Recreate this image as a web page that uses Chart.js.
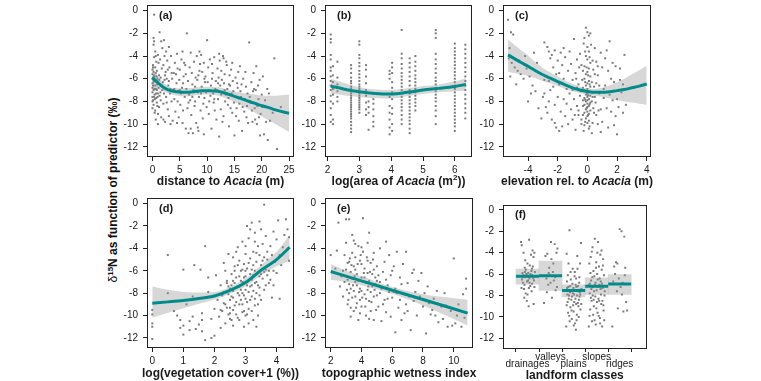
<!DOCTYPE html>
<html><head><meta charset="utf-8">
<script src="https://cdn.jsdelivr.net/npm/chart.js@4.4.1/dist/chart.umd.min.js"></script>
<style>
html,body{margin:0;padding:0;background:#fff}
body{width:761px;height:381px;overflow:hidden;position:relative;font-family:"Liberation Sans",Arial,sans-serif}
canvas{position:absolute}
#ytitle{position:absolute;left:113px;top:190px;transform:translate(-50%,-50%) rotate(-90deg);white-space:nowrap;font-weight:bold;font-size:12px;color:#111;line-height:14px}
#ytitle sup{font-size:8px;vertical-align:4px;line-height:0}
</style></head>
<body>
<div id="ytitle"><span style="font-weight:normal">δ</span><sup>15</sup>N as function of predictor (‰)</div>
<canvas id="pa" width="180" height="190" style="left:120px;top:0px"></canvas>
<canvas id="pb" width="182" height="190" style="left:298px;top:0px"></canvas>
<canvas id="pc" width="185" height="190" style="left:476px;top:0px"></canvas>
<canvas id="pd" width="180" height="191" style="left:120px;top:190px"></canvas>
<canvas id="pe" width="182" height="191" style="left:298px;top:190px"></canvas>
<canvas id="pf" width="185" height="191" style="left:476px;top:190px"></canvas>
<script>
// ---------------- data ----------------
const yTicks = [-12, -10, -8, -6, -4, -2, 0];
const aTicks = [0, 5, 10, 15, 20, 25];
const bTicks = [2, 3, 4, 5, 6];
const cTicks = [-4, -2, 0, 2, 4];
const dTicks = [0, 1, 2, 3, 4];
const eTicks = [2, 4, 6, 8, 10];
const fTicks = [1, 2, 3, 4, 5];
const fCategories = ['drainages', 'valleys', 'plains', 'slopes', 'ridges'];

const aTitle = [['distance to ', ''], ['Acacia', 'i'], [' (m)', '']];
const bTitle = [['log(area of ', ''], ['Acacia', 'i'], [' (m', ''], ['2', 's'], ['))', '']];
const cTitle = [['elevation rel. to ', ''], ['Acacia', 'i'], [' (m)', '']];
const dTitle = [['log(vegetation cover+1 (%))', '']];
const eTitle = [['topographic wetness index', '']];
const fTitle = [['landform classes', '']];

// (a) distance to Acacia
const aPoints = [[0,-5.2],[0,-5.6],[0,-6.0],[0,-6.4],[0,-6.8],[0,-7.2],[0,-7.6],[0,-8.0],[0,-8.6],[0.1,-4.8],[0.1,-5.9],[0.1,-6.6],[0.1,-7.9],[0.2,-2.4],[0.2,-3.0],[0.2,-5.4],[0.2,-7.0],[0.2,-8.3],[0.3,-0.35],[0.3,-2.7],[0.3,-4.1],[0.3,-6.2],[0.4,-7.4],[0.4,-9.0],[0.5,-3.6],[0.5,-5.0],[0.5,-8.8],[0.6,-6.9],[0.6,-9.6],[0.7,-4.5],[0.7,-7.7],[0.8,-5.3],[0.8,-8.1],[0.9,-6.0],[1.0,-3.9],[1.0,-7.3],[1.0,-9.1],[1.2,-5.7],[1.2,-8.5],[1.3,-1.9],[1.4,-4.3],[1.4,-6.5],[1.5,-7.9],[1.6,-2.7],[1.6,-9.4],[1.7,-5.1],[1.8,-3.3],[1.8,-7.0],[2.0,-4.8],[2.0,-8.2],[2.1,-2.6],[2.2,-6.1],[2.3,-9.8],[2.4,-5.4],[2.5,-3.6],[2.5,-7.6],[2.7,-4.4],[2.8,-8.7],[2.9,-6.6],[3.0,-9.3],[3.1,-5.0],[3.2,-7.3],[3.4,-4.0],[3.5,-8.0],[3.6,-6.0],[3.7,-9.7],[3.9,-5.5],[4.0,-7.8],[4.1,-4.6],[4.2,-8.9],[4.4,-6.4],[4.5,-3.8],[4.7,-7.1],[4.8,-9.4],[5.0,-5.2],[5.1,-8.3],[5.3,-4.3],[5.4,-6.8],[5.5,-9.9],[5.7,-5.8],[5.9,-7.6],[6.0,-4.8],[6.1,-10.4],[6.3,-2.0],[6.4,-8.6],[6.5,-6.2],[6.6,-10.8],[6.8,-5.0],[6.9,-7.9],[7.0,-3.7],[7.1,-9.2],[7.3,-6.5],[7.4,-10.8],[7.6,-4.5],[7.7,-8.4],[7.9,-5.9],[8.0,-9.9],[8.1,-4.0],[8.3,-7.2],[8.4,-10.6],[8.6,-5.3],[8.8,-8.8],[8.9,-3.9],[9.0,-6.7],[9.2,-9.5],[9.4,-4.6],[9.5,-7.7],[9.7,-5.8],[9.9,-8.5],[10.0,-2.6],[10.1,-6.3],[10.3,-9.1],[10.5,-4.3],[10.6,-7.5],[10.8,-10.4],[11.0,-5.5],[11.2,-8.1],[11.3,-4.1],[11.5,-6.9],[11.7,-9.6],[11.9,-5.1],[12.0,-7.8],[12.2,-11.1],[12.3,-4.4],[12.5,-8.7],[12.7,-6.1],[12.9,-4.0],[13.0,-9.3],[13.2,-5.6],[13.4,-7.4],[13.6,-4.8],[13.8,-8.3],[14.0,-10.2],[14.2,-6.6],[14.4,-5.2],[14.6,-9.0],[14.8,-7.1],[15.0,-11.0],[15.2,-5.9],[15.4,-8.6],[15.6,-6.8],[15.8,-9.7],[16.0,-4.9],[16.2,-7.6],[16.4,-10.6],[16.6,-6.0],[16.8,-8.9],[17.0,-5.4],[17.2,-9.4],[17.4,-7.3],[17.7,-2.8],[17.9,-8.1],[18.1,-6.3],[18.3,-9.8],[18.5,-5.5],[18.7,-8.6],[18.9,-7.0],[19.0,-4.9],[19.1,-10.0],[19.3,-6.6],[19.5,-9.4],[19.7,-11.0],[20.0,-7.4],[20.2,-5.8],[20.4,-10.9],[20.6,-7.9],[21.0,-6.9],[21.1,-11.4],[21.5,-9.7],[22.3,-4.2],[22.8,-12.2],[23.5,-8.5],
[0.1,-5.0],[0.2,-6.3],[0.3,-7.6],[0.4,-5.8],[0.5,-6.6],[0.6,-5.5],[0.7,-6.2],[0.8,-7.0],[0.9,-8.4],[1.1,-6.8],[1.3,-7.5],[1.5,-5.9],[1.9,-6.3],[2.1,-7.3],[2.6,-6.0],[2.8,-5.2],[3.3,-6.9],[3.8,-7.0],[4.3,-5.6],[4.6,-8.0],[4.9,-6.1],[5.2,-7.3],[5.6,-8.8],[5.8,-4.6],[6.2,-6.9],[6.7,-7.4],[7.2,-5.5],[7.5,-7.0],[7.8,-8.0],[8.2,-6.1],[8.5,-7.6],[8.7,-4.7],[9.1,-5.4],[9.3,-8.2],[9.6,-6.3],[9.8,-7.2],[10.2,-5.0],[10.4,-8.0],[10.7,-6.6],[10.9,-4.7],[11.1,-7.3],[11.4,-8.8],[11.6,-6.2],[11.8,-7.0],[12.1,-5.9],[12.4,-6.6],[12.6,-7.4],[12.8,-9.8],[13.1,-6.4],[13.3,-8.0],[13.5,-4.5],[13.7,-6.9],[13.9,-7.7],[14.1,-5.7],[14.3,-8.6],[14.5,-7.3],[14.7,-6.2],[14.9,-8.1],[15.1,-7.6],[15.3,-9.3],[15.5,-6.4],[15.9,-8.2],[16.1,-7.1],[16.5,-8.5],[16.9,-7.8],[17.1,-6.7],[17.5,-9.9],[17.8,-7.6],[18.2,-8.8],[18.6,-6.9],[18.8,-9.6],[19.2,-8.4],[19.4,-7.8],[19.8,-9.1],[20.1,-8.5],[20.8,-9.8],[21.3,-7.3],[22.0,-9.0],[9.4,-10.9],[8.3,-10.3],[7.0,-10.4],
[0.15,-6.1],[0.25,-5.7],[0.35,-6.9],[0.45,-7.8],[0.55,-6.2],[0.65,-7.3],[0.75,-5.8],[0.85,-6.5],[0.95,-7.6],[1.25,-6.1],[1.45,-7.2],[1.75,-6.6],[2.3,-5.7],[2.6,-8.1],[3.0,-6.2],[3.5,-5.5],[4.0,-6.9],[4.6,-5.1],[5.0,-7.0],[5.6,-6.4],[6.1,-5.6],[6.6,-8.1],[7.3,-7.6],[7.8,-6.7],[8.4,-5.7],[8.9,-7.3],[9.5,-6.0],[10.3,-7.0],[10.9,-6.0],[11.3,-7.8],[12.0,-6.4],[12.6,-5.3],[13.2,-7.0],[14.0,-6.5],[14.6,-4.6],[15.7,-5.4],[16.3,-6.5],[17.3,-8.4],[18.4,-7.1],[19.6,-6.1],[1.0,-10.0],[2.0,-9.6],[3.3,-10.0],[4.5,-9.9],[0.6,-4.0],[1.1,-4.6],[2.2,-4.0],[3.0,-3.2],[5.5,-3.6],[8.6,-3.6],[12.2,-3.8],[13.0,-4.2]];
const aCurve = [[0,-5.9],[1,-6.35],[2,-6.75],[3,-7.0],[4.5,-7.15],[6,-7.2],[7.5,-7.15],[9,-7.05],[10.5,-7.05],[12,-7.1],[13.5,-7.3],[15,-7.55],[16.5,-7.8],[18,-8.05],[19.5,-8.3],[21,-8.5],[22.5,-8.75],[25,-9.05]];
const aBand = [[0,-6.8,-5.0],[1,-6.9,-5.8],[2,-7.1,-6.35],[3,-7.3,-6.7],[4.5,-7.5,-6.85],[6,-7.55,-6.85],[7.5,-7.5,-6.8],[9,-7.4,-6.7],[10.5,-7.4,-6.7],[12,-7.5,-6.75],[13.5,-7.75,-6.9],[15,-8.05,-7.1],[16.5,-8.4,-7.25],[18,-8.8,-7.35],[19.5,-9.2,-7.45],[21,-9.6,-7.5],[22.5,-10.0,-7.5],[25,-10.7,-7.4]];

// (b) log(area of Acacia)
const bColumnX = [2.10, 2.17, 2.31, 2.74, 3.0, 3.21, 3.29, 3.44, 3.95, 4.03, 4.33, 4.58, 4.76, 5.40, 6.0, 6.33];
const bColumnY = [
 [-2.1,-2.5,-2.8,-3.9,-4.3,-5.0,-5.3,-5.8,-6.2,-6.6,-7.0,-7.5,-8.0,-8.6,-9.2,-9.8],
 [-4.9,-5.7,-6.3,-6.9,-7.4,-8.2,-9.6,-10.0],
 [-4.5,-5.9,-6.5,-7.1,-7.6,-8.0],
 [-4.8,-5.1,-5.5,-5.9,-6.2,-6.4,-6.7,-6.9,-7.1,-7.3,-7.5,-7.7,-7.9,-8.1,-8.3,-8.5,-8.7,-8.9,-9.1,-9.3,-9.5,-9.8,-10.1,-10.4,-10.7],
 [-2.7,-3.0,-3.9,-4.2,-4.6,-4.9,-5.3,-5.6,-5.9,-6.2,-6.5,-6.7,-6.9,-7.1,-7.3,-7.5,-7.7,-7.9,-8.1,-8.3,-8.5,-8.7,-9.0],
 [-4.8,-5.2,-5.8,-6.4,-7.0,-7.5,-8.1,-8.7,-9.2],
 [-8.0,-8.5,-9.0,-10.5],
 [-7.3,-7.8,-8.2,-8.7,-9.3,-9.8,-10.2],
 [-5.3,-5.6,-6.0,-7.6,-8.4,-9.0,-9.6,-10.3,-10.9],
 [-4.6,-5.0,-5.5,-6.3,-6.8,-7.2,-7.8,-8.6,-9.1,-10.0,-10.6],
 [-1.7,-3.8,-4.2,-4.7,-5.1,-5.5,-5.8,-6.1,-6.4,-6.7,-7.0,-7.3,-7.6,-7.9,-8.2,-8.5,-8.8,-9.2,-9.6,-10.0],
 [-4.2,-4.6,-5.0,-5.4,-5.8,-6.2,-6.6,-7.0,-7.3,-7.6,-7.9,-8.2,-8.5,-8.8,-9.1,-9.4,-9.7,-10.0,-10.4,-10.8],
 [-4.0,-4.5,-4.9,-5.3,-5.7,-6.0,-6.3,-6.6,-6.9,-7.2,-7.5,-7.8,-8.1,-8.4,-8.8],
 [-1.7,-2.0,-2.4,-3.8,-4.3,-4.7,-5.1,-5.5,-5.9,-6.2,-6.5,-6.8,-7.1,-7.4,-7.7,-8.0,-8.4,-8.8,-9.3,-10.0],
 [-2.9,-3.3,-3.6,-3.9,-4.2,-4.5,-4.8,-5.1,-5.4,-5.7,-6.0,-6.3,-6.6,-6.9,-7.2,-7.5,-7.8,-8.1,-8.4,-8.7,-9.0,-9.3,-9.6,-9.9,-10.2,-10.6],
 [-3.0,-3.4,-3.8,-4.2,-4.6,-5.0,-5.4,-5.8,-6.2,-6.6,-7.0,-7.4,-7.8,-8.2,-8.6,-9.0,-9.5]
];
const bCurve = [[2.1,-6.65],[2.5,-6.9],[3,-7.15],[3.5,-7.3],[4,-7.35],[4.5,-7.2],[5,-7.0],[5.5,-6.85],[6,-6.68],[6.35,-6.5]];
const bBand = [[2.1,-7.3,-6.0],[2.5,-7.45,-6.35],[3,-7.6,-6.75],[3.5,-7.7,-6.95],[4,-7.75,-7.0],[4.5,-7.55,-6.85],[5,-7.35,-6.65],[5.5,-7.2,-6.5],[6,-7.1,-6.25],[6.35,-7.05,-5.95]];

// (c) elevation relative to Acacia
const cPoints = [[-5.35,-0.8],[-5.15,-1.9],[-5.0,-2.1],[-5.25,-3.3],[-5.3,-4.2],[-5.1,-4.6],[-4.9,-5.0],[-5.2,-5.8],[-4.7,-5.3],[-4.5,-5.6],[-4.8,-6.5],[-4.3,-6.0],[-4.6,-4.4],[-4.1,-5.1],[-3.9,-5.8],[-4.0,-8.0],[-3.7,-6.6],[-3.5,-7.1],[-3.4,-4.6],[-3.3,-8.6],[-3.2,-5.5],[-3.0,-7.6],[-2.9,-6.1],
[-2.9,-2.8],[-2.7,-3.2],[-2.6,-3.6],[-2.5,-4.2],[-2.4,-3.9],[-2.3,-5.0],[-2.2,-3.5],[-2.0,-4.4],[-1.9,-5.5],[-1.8,-3.7],[-1.7,-4.8],[-1.6,-6.0],[-1.5,-4.1],[-1.3,-5.3],[-1.2,-3.6],[-1.1,-4.7],[-1.0,-6.1],[-0.9,-2.5],[-0.8,-5.5],[-0.7,-4.3],[-0.6,-6.5],[-0.5,-3.8],
[-2.9,-7.3],[-2.8,-8.5],[-2.7,-9.0],[-2.6,-8.0],[-2.5,-7.0],[-2.4,-9.6],[-2.2,-8.3],[-2.1,-10.3],[-2.0,-7.6],[-1.9,-10.6],[-1.8,-8.9],[-1.6,-7.8],[-1.5,-9.3],[-1.4,-8.2],[-1.3,-10.0],[-1.2,-7.3],[-1.1,-8.7],[-1.0,-9.6],[-0.9,-7.8],[-0.8,-10.5],[-0.7,-8.4],[-0.6,-9.2],[-0.5,-7.5],[-0.4,-10.0],[-2.6,-6.2],[-2.3,-6.7],[-1.9,-6.5],[-1.4,-6.9],[-1.0,-7.0],[-0.7,-6.8],
[-0.1,-1.5],[0.1,-2.2],[0.2,-2.0],[-0.2,-2.4],[0,-3.2],[0.1,-3.6],[-0.1,-4.0],[0.0,-4.3],[0.2,-4.6],[-0.2,-4.9],[0.1,-5.1],[0,-5.4],[-0.1,-5.6],[0.2,-5.8],[-0.2,-6.0],[0.1,-6.2],[0,-6.4],[-0.1,-6.6],[0.2,-6.7],[0,-6.9],[-0.2,-7.0],[0.1,-7.1],[0,-7.3],[-0.1,-7.4],[0.2,-7.5],[0,-7.6],[-0.2,-7.7],[0.1,-7.8],[0,-7.9],[-0.1,-8.0],[0.2,-8.1],[0,-8.2],[-0.2,-8.3],[0.1,-8.4],[0,-8.5],[-0.1,-8.7],[0.2,-8.8],[0,-8.9],[-0.2,-9.0],[0.1,-9.1],[0,-9.3],[-0.1,-9.5],[0.1,-9.7],[0,-9.9],[-0.2,-10.1],[0.1,-10.4],[0.3,-10.8],[0.3,-6.3],[0.3,-7.2],[0.3,-8.0],[-0.3,-6.8],[-0.3,-7.9],[-0.3,-9.2],[0.4,-5.2],[0.4,-8.6],[-0.3,-5.3],
[0.5,-3.3],[0.6,-4.5],[0.7,-5.7],[0.8,-6.6],[0.9,-3.7],[1.0,-5.0],[1.1,-7.7],[1.2,-4.2],[1.3,-8.6],[1.4,-5.3],[1.5,-2.7],[1.6,-6.0],[1.7,-7.9],[1.8,-6.3],[1.9,-9.3],[2.0,-10.9],[2.1,-8.5],[2.2,-6.1],[2.3,-7.2],[2.4,-9.0],[2.5,-3.9],[2.6,-8.3],[0.5,-7.6],[0.6,-9.2],[0.7,-10.0],[0.9,-8.7],[1.0,-9.8],[1.2,-6.6],[1.4,-10.3],[1.6,-8.9],[0.6,-6.4],[0.8,-7.3],[1.1,-6.9],[1.5,-7.4],[1.8,-10.1],[2.0,-7.8],
[-0.4,-4.8],[-0.35,-6.1],[-0.45,-7.1],[-0.3,-8.4],[-0.4,-9.6],[0.35,-4.4],[0.45,-6.7],[0.35,-7.6],[0.45,-9.0],[0.35,-9.9],[-0.15,-3.6],[0.15,-4.1],[-0.05,-5.0],[0.05,-5.7],[-0.15,-6.3],[0.15,-6.5],[-0.05,-7.15],[0.05,-7.45],[-0.15,-7.85],[0.15,-8.25],[-0.05,-8.6],[0.05,-9.2],[-0.15,-9.8],[0.15,-10.2],[-0.25,-10.6],[0.25,-3.0],[-0.25,-2.9],[0.0,-1.9],[0.5,-5.6],[0.55,-8.1],[-0.55,-5.0],[-0.6,-8.8],[0.7,-4.9],[0.75,-8.8],[-0.75,-6.0],[-0.85,-9.2],[1.3,-3.5],[1.7,-4.6],[2.2,-5.1],[-1.6,-3.3],[-2.1,-5.6],[-3.6,-3.7],[-4.2,-4.0],[-3.8,-7.3],[-2.2,-9.9],[-1.7,-10.2],[-3.1,-9.5],[0.9,-10.7],[1.9,-4.9],[2.4,-6.5]];
const cCurve = [[-5.35,-3.9],[-4.5,-4.55],[-4,-4.9],[-3.5,-5.3],[-3,-5.65],[-2.5,-5.95],[-2,-6.25],[-1.5,-6.55],[-1,-6.8],[-0.5,-7.0],[0,-7.12],[0.5,-7.2],[1,-7.2],[1.5,-7.15],[2,-7.05],[2.5,-6.95],[3,-6.8],[3.5,-6.65],[4,-6.47]];
const cBand = [[-5.35,-5.4,-2.55],[-4.5,-5.6,-3.45],[-4,-5.75,-3.95],[-3.5,-5.95,-4.55],[-3,-6.2,-5.05],[-2.5,-6.4,-5.45],[-2,-6.65,-5.8],[-1.5,-6.9,-6.15],[-1,-7.1,-6.45],[-0.5,-7.25,-6.7],[0,-7.4,-6.85],[0.5,-7.5,-6.9],[1,-7.6,-6.8],[1.5,-7.75,-6.6],[2,-7.9,-6.3],[2.5,-8.0,-6.0],[3,-8.1,-5.6],[3.5,-8.2,-5.25],[4,-8.3,-4.85]];

// (d) log(vegetation cover + 1)
const dPoints = [[0,-12.1],[0,-10.7],[0,-9.5],[0,-9.9],[0,-11.0],[0.5,-4.6],[0.5,-8.0],[0.8,-10.0],[0.9,-10.4],[1.0,-5.9],[1.0,-10.9],[1.0,-11.7],[1.2,-10.5],[1.3,-10.1],[1.35,-5.5],[1.4,-11.2],[1.5,-10.8],[1.55,-5.9],[1.6,-11.4],[1.7,-3.8],[1.7,-12.2],[1.8,-7.9],[1.9,-12.0],[1.9,-10.3],[2.0,-9.4],[2.0,-11.8],[1.3,-8.3],[1.1,-9.0],[0.7,-9.6],[1.6,-9.8],[1.8,-6.6],
[2.05,-6.4],[2.1,-8.6],[2.15,-10.1],[2.2,-7.3],[2.25,-9.6],[2.3,-5.3],[2.3,-8.9],[2.35,-10.7],[2.4,-6.9],[2.4,-9.3],[2.45,-4.5],[2.45,-8.1],[2.5,-9.8],[2.5,-7.6],[2.2,-11.1],[2.55,-10.4],[2.55,-6.3],
[2.6,-4.8],[2.6,-8.4],[2.6,-9.5],[2.65,-5.6],[2.65,-7.1],[2.7,-9.9],[2.7,-6.6],[2.7,-4.3],[2.75,-8.0],[2.75,-10.2],[2.8,-5.1],[2.8,-7.4],[2.8,-9.0],[2.85,-6.0],[2.85,-8.6],[2.9,-3.4],[2.9,-7.0],[2.9,-9.7],[2.95,-5.4],[2.95,-8.2],[3.0,-4.5],[3.0,-6.5],[3.0,-7.7],[3.0,-10.0],[2.6,-10.9],[2.75,-3.9],[2.95,-11.0],
[3.05,-2.0],[3.05,-5.8],[3.05,-8.8],[3.1,-3.1],[3.1,-6.9],[3.1,-9.4],[3.15,-4.9],[3.15,-7.4],[3.2,-1.7],[3.2,-5.9],[3.2,-8.3],[3.25,-4.3],[3.25,-6.4],[3.25,-10.4],[3.3,-2.6],[3.3,-7.1],[3.3,-9.1],[3.35,-5.2],[3.35,-8.0],[3.4,-3.8],[3.4,-6.2],[3.4,-10.0],[3.45,-4.6],[3.45,-7.5],[3.5,-2.3],[3.5,-5.5],[3.5,-8.6],[3.1,-10.7],[3.35,-11.0],
[3.55,-6.7],[3.55,-3.6],[3.6,-0.1],[3.6,-4.8],[3.6,-7.7],[3.65,-5.9],[3.65,-2.9],[3.7,-6.4],[3.7,-4.3],[3.75,-7.1],[3.8,-5.4],[3.85,-8.4],[3.9,-6.0],[4.0,-3.2],[4.05,-1.5],[4.1,-4.6],[4.1,-8.5],[4.2,-3.9],[4.3,-1.4],[4.35,-2.3],[4.4,-5.1],[4.4,-3.0],[3.9,-2.5],[3.8,-3.8],
[2.3,-7.9],[2.5,-8.6],[2.6,-7.8],[2.7,-8.8],[2.8,-8.2],[2.9,-8.0],[3.0,-8.5],[3.1,-7.9],[3.2,-7.3],[3.3,-8.5],[2.4,-7.1],[2.55,-7.3],[2.65,-6.0],[2.85,-6.9],[3.0,-6.0],[3.15,-6.3],[3.25,-5.5],[3.45,-6.5],[2.9,-5.9],[3.35,-7.0],[2.25,-8.2],[2.45,-9.9],[2.5,-10.3],
[2.35,-6.0],[2.45,-7.4],[2.55,-8.3],[2.6,-6.9],[2.7,-7.5],[2.75,-5.5],[2.8,-6.5],[2.85,-7.7],[2.9,-9.0],[2.95,-6.6],[3.05,-7.3],[3.1,-5.3],[3.15,-8.6],[3.2,-6.8],[3.25,-7.8],[3.3,-6.0],[3.35,-4.4],[3.4,-7.3],[3.45,-8.2],[3.5,-6.3],[3.55,-5.1],[3.6,-6.1],[3.65,-7.3],[3.7,-5.0],[3.75,-6.0],[3.8,-6.8],[3.85,-4.6],[3.9,-7.3],[3.95,-5.2],[4.0,-6.2],[4.15,-5.5],[4.25,-2.8],[3.3,-3.4],[3.15,-2.3],[3.0,-3.8],[2.2,-9.5],[2.35,-9.0],[2.5,-9.3],[2.65,-9.1],[2.8,-10.4],[2.95,-9.6],[3.05,-9.9],[3.2,-9.6],[3.4,-9.0],[1.6,-10.4],[1.2,-11.3],[0.9,-11.1],[3.45,-1.6]];
const dCurve = [[0,-8.9],[0.5,-8.78],[1,-8.65],[1.5,-8.48],[2,-8.25],[2.5,-7.75],[3,-7.05],[3.5,-5.95],[4,-5.0],[4.42,-3.9]];
const dBand = [[0,-10.2,-7.4],[0.5,-9.75,-7.7],[1,-9.35,-7.9],[1.5,-8.95,-7.95],[2,-8.6,-7.9],[2.5,-8.05,-7.45],[3,-7.4,-6.7],[3.5,-6.4,-5.5],[4,-5.6,-4.3],[4.42,-5.1,-2.8]];

// (e) topographic wetness index
const ePoints = [[2.0,-4.6],[2.3,-5.8],[2.4,-4.2],[2.5,-1.7],[2.6,-7.4],[2.7,-6.5],[2.8,-8.3],[2.9,-4.6],[3.0,-1.4],[3.0,-3.5],[3.1,-5.3],[3.1,-9.0],[3.2,-1.4],[3.2,-7.2],[3.3,-10.1],[3.3,-6.1],[3.4,-4.4],[3.4,-8.4],[3.5,-3.3],[3.5,-5.6],[3.5,-9.6],[3.6,-7.0],[3.6,-4.8],[3.7,-6.3],[3.7,-8.9],[3.8,-3.8],[3.8,-10.4],[3.9,-5.1],[3.9,-7.6],[4.0,-6.6],[4.0,-9.2],[4.1,-1.3],[4.1,-4.3],[4.2,-8.1],[4.2,-5.8],[4.3,-10.0],[4.3,-7.1],[4.4,-3.5],[4.4,-6.2],[4.5,-8.7],[4.5,-2.6],[4.6,-5.3],[4.6,-9.6],[4.7,-7.4],[4.8,-4.4],[4.8,-10.4],[4.9,-6.6],[5.0,-8.2],[5.0,-5.6],[5.1,-9.2],[5.2,-4.0],[5.2,-7.0],[5.3,-10.5],[5.4,-6.1],[5.5,-8.6],[5.5,-5.2],[5.6,-3.4],[5.6,-9.7],[5.7,-7.3],[5.8,-4.6],[5.9,-10.1],[5.9,-6.4],[6.0,-8.4],[6.1,-5.6],[6.2,-11.5],[6.2,-7.6],[6.3,-4.3],[6.4,-9.3],[6.5,-6.6],[6.6,-10.4],[6.7,-5.4],[6.8,-8.1],[6.9,-4.3],[7.0,-9.6],[7.0,-7.1],[7.2,-11.3],[7.3,-6.2],[7.4,-8.7],[7.6,-10.0],[7.7,-6.9],[7.9,-6.2],[8.0,-9.2],[8.1,-8.0],[8.2,-11.6],[8.3,-7.4],[8.5,-9.9],[8.7,-8.5],[8.9,-7.8],[9.0,-10.6],[9.2,-9.2],[9.4,-8.0],[9.6,-11.0],[9.8,-9.6],[10.0,-4.9],[10.1,-10.7],[10.3,-9.0],[10.6,-8.1],[10.8,-6.7],[10.8,-7.6],[10.7,-10.2],
[3.1,-6.8],[3.2,-8.0],[3.3,-7.6],[3.4,-6.7],[3.5,-7.8],[3.6,-8.3],[3.7,-7.3],[3.8,-6.9],[3.9,-8.6],[4.0,-7.8],[4.1,-7.0],[4.2,-6.6],[4.3,-8.5],[4.4,-7.7],[4.5,-6.9],[4.6,-7.9],[4.7,-6.3],[4.8,-8.3],[4.9,-7.2],[5.0,-6.9],[3.2,-5.2],[3.6,-5.9],[4.0,-5.4],[4.4,-5.1],[4.8,-5.9],[3.3,-9.3],[3.9,-9.8],[4.5,-10.3],[5.2,-8.0],[5.7,-8.5],[6.1,-7.9],[6.5,-8.6],[6.9,-9.0],[7.5,-7.9],[8.0,-8.6],[8.6,-9.5],[9.3,-10.3],[9.9,-10.9],
[2.8,-6.0],[2.9,-7.0],[3.0,-5.9],[3.05,-7.7],[3.15,-8.6],[3.25,-4.9],[3.35,-5.5],[3.45,-7.3],[3.55,-6.5],[3.65,-9.3],[3.75,-5.4],[3.85,-7.9],[3.95,-4.6],[4.05,-8.4],[4.15,-6.2],[4.25,-9.2],[4.35,-4.8],[4.45,-7.4],[4.55,-6.1],[4.65,-8.8],[4.75,-5.0],[4.85,-7.7],[4.95,-9.5],[5.1,-6.4],[5.3,-7.6],[5.4,-9.0],[5.6,-6.8],[5.8,-7.9],[6.0,-6.0],[6.3,-8.0],[6.6,-7.2],[6.8,-9.8],[7.1,-8.3],[7.4,-5.9],[7.8,-8.3],[8.4,-8.9],[8.8,-10.0],[9.5,-9.1],[10.2,-10.0],[10.5,-11.0],[3.6,-3.6],[4.0,-3.9],[3.4,-2.8]];
const eCurve = [[2,-6.07],[4,-6.9],[6,-7.74],[8,-8.57],[10.9,-9.78]];
const eBand = [[2,-6.8,-5.4],[3,-7.0,-6.0],[4,-7.3,-6.5],[5,-7.65,-7.0],[6,-8.05,-7.45],[7,-8.55,-7.8],[8,-9.1,-8.1],[9,-9.7,-8.3],[10,-10.3,-8.45],[10.9,-10.9,-8.6]];

// (f) landform classes
const fPoints = [
 [0.72,-3.0],[0.75,-3.3],[0.78,-5.9],[0.8,-6.8],[0.83,-4.0],[0.85,-7.4],[0.88,-5.4],[0.9,-6.3],[0.92,-7.8],[0.95,-6.0],[0.97,-8.5],[1.0,-5.0],[1.02,-6.6],[1.05,-9.0],[1.07,-2.8],[1.1,-6.2],[1.12,-7.1],[1.15,-4.2],[1.17,-5.7],[1.2,-6.9],[1.22,-3.8],[1.25,-6.4],[1.27,-8.8],[1.3,-4.0],[1.32,-5.8],[0.76,-6.5],[0.82,-6.1],[0.87,-7.0],[0.93,-5.6],[0.98,-6.7],[1.03,-5.9],[1.08,-6.4],[1.13,-6.0],[1.18,-7.6],[1.23,-5.3],[1.28,-6.6],[0.74,-7.3],[0.9,-4.7],[1.0,-7.9],[1.1,-5.2],[1.2,-6.1],[1.3,-7.2],[0.86,-8.2],[1.06,-7.3],[1.26,-4.4],[0.79,-6.3],[0.89,-5.8],[0.99,-6.1],[1.09,-6.8],[1.19,-5.5],[1.29,-6.2],
 [1.72,-8.7],[1.78,-4.3],[1.82,-6.4],[1.86,-4.1],[1.9,-7.0],[1.94,-5.4],[1.98,-6.1],[2.02,-3.0],[2.06,-8.2],[2.1,-5.8],[2.14,-6.6],[2.18,-3.2],[2.22,-7.5],[2.26,-4.0],[2.3,-3.6],[1.84,-7.7],[2.0,-6.8],[2.12,-5.0],[2.2,-6.3],[1.92,-5.9],[2.28,-7.2],[2.04,-4.6],
 [2.68,-10.9],[2.7,-4.1],[2.72,-7.3],[2.74,-8.6],[2.76,-9.6],[2.78,-5.0],[2.8,-8.0],[2.82,-1.9],[2.84,-7.7],[2.86,-9.1],[2.88,-6.5],[2.9,-8.4],[2.92,-10.2],[2.94,-7.5],[2.96,-5.5],[2.98,-8.9],[3.0,-9.5],[3.02,-7.9],[3.04,-6.2],[3.06,-10.6],[3.08,-8.3],[3.1,-11.2],[3.12,-7.2],[3.14,-9.8],[3.16,-4.3],[3.18,-8.7],[3.2,-7.6],[3.22,-10.0],[3.24,-6.8],[3.26,-8.1],[3.28,-5.0],[3.3,-9.3],[3.32,-3.1],[3.34,-7.4],[2.73,-7.9],[2.79,-8.3],[2.85,-7.1],[2.91,-9.4],[2.97,-7.8],[3.03,-8.6],[3.09,-7.0],[3.15,-8.0],[3.21,-9.0],[3.27,-7.7],[2.75,-6.1],[2.95,-6.9],[3.05,-5.8],[3.25,-6.3],[2.83,-10.4],[3.13,-10.3],[2.87,-5.8],[3.17,-5.5],[2.7,-8.9],[2.77,-7.2],[2.81,-9.9],[2.89,-7.6],[2.93,-8.1],[2.99,-7.3],[3.01,-10.8],[3.07,-7.5],[3.11,-8.8],[3.19,-7.1],[3.23,-8.4],[3.29,-7.9],[3.33,-8.8],[2.71,-6.7],[3.11,-6.4],
 [3.66,-10.9],[3.68,-5.0],[3.7,-7.8],[3.72,-9.3],[3.74,-4.4],[3.76,-6.6],[3.78,-8.5],[3.8,-10.4],[3.82,-3.5],[3.84,-7.2],[3.86,-5.7],[3.88,-9.0],[3.9,-6.2],[3.92,-2.7],[3.94,-8.1],[3.96,-10.7],[3.98,-4.9],[4.0,-7.5],[4.02,-6.0],[4.04,-9.6],[4.06,-3.0],[4.08,-8.3],[4.1,-5.3],[4.12,-7.0],[4.14,-10.1],[4.16,-4.2],[4.18,-6.7],[4.2,-8.8],[4.22,-5.6],[4.24,-10.9],[4.26,-7.3],[4.28,-4.6],[4.3,-9.4],[4.32,-6.1],[4.34,-8.0],[3.71,-6.9],[3.77,-7.4],[3.83,-8.0],[3.89,-7.6],[3.95,-6.8],[4.01,-8.6],[4.07,-7.2],[4.13,-6.4],[4.19,-7.9],[4.25,-8.5],[4.31,-7.1],[3.73,-5.9],[3.85,-9.8],[3.97,-5.4],[4.09,-9.9],[4.21,-3.8],[4.33,-10.3],[3.79,-3.9],[4.03,-4.0],[4.27,-5.2],[3.67,-7.0],[3.75,-8.2],[3.81,-6.3],[3.87,-8.4],[3.93,-7.0],[3.99,-9.2],[4.05,-6.5],[4.11,-8.5],[4.17,-7.4],[4.23,-6.9],[4.29,-8.9],[4.35,-7.6],[3.69,-9.9],[3.91,-10.3],[4.15,-10.6],
 [4.68,-10.9],[4.72,-6.7],[4.76,-5.3],[4.8,-6.0],[4.84,-4.9],[4.88,-7.6],[4.92,-9.2],[4.96,-6.4],[5.0,-1.8],[5.04,-7.2],[5.08,-2.0],[5.12,-6.8],[5.16,-9.5],[5.2,-2.5],[5.24,-5.4],[5.28,-8.6],[5.32,-9.4],[4.9,-5.0],[5.1,-7.9],[5.22,-6.1]];
const fMeans = [-6.2, -6.16, -7.53, -7.14, -6.93];
const fLower = [-6.93, -7.53, -8.13, -7.89, -7.89];
const fUpper = [-5.54, -4.79, -6.99, -6.34, -6.04];

// ---------------- styles ----------------
const FAM = '"Liberation Sans", Arial, Helvetica, sans-serif';
const TEAL = '#008b8b';
const BANDC = 'rgba(150,150,150,0.38)';
const PTC = '#7a7a7a';
const INK = '#1a1a1a';

function drawRich(ctx, segs, cx, cy) {
  const fontFor = s => (s[1] === 'i' ? 'italic ' : '') + 'bold ' + (s[1] === 's' ? 8 : 12) + 'px ' + FAM;
  let total = 0; const ws = [];
  segs.forEach(s => { ctx.font = fontFor(s); const w = ctx.measureText(s[0]).width; ws.push(w); total += w; });
  let x = cx - total / 2;
  ctx.textAlign = 'left'; ctx.textBaseline = 'middle'; ctx.fillStyle = INK;
  segs.forEach((s, i) => { ctx.font = fontFor(s); ctx.fillText(s[0], x, s[1] === 's' ? cy - 4 : cy); x += ws[i]; });
}

const decoPlugin = {
  id: 'deco',
  afterDraw(chart, args, opts) {
    const ctx = chart.ctx, a = chart.chartArea;
    ctx.save();
    ctx.strokeStyle = '#222'; ctx.lineWidth = 1;
    ctx.strokeRect(Math.round(a.left) + 0.5, Math.round(a.top) + 0.5, Math.round(a.right - a.left) - 1, Math.round(a.bottom - a.top) - 1);
    ctx.font = 'bold 11px ' + FAM; ctx.fillStyle = INK; ctx.textAlign = 'left'; ctx.textBaseline = 'middle';
    ctx.fillText(opts.letter, a.left + 12, a.top + 10.5);
    drawRich(ctx, opts.title, (a.left + a.right) / 2, a.bottom + opts.titleGap);
    ctx.restore();
  }
};

const toXY = arr => arr.map(p => ({ x: p[0], y: p[1] }));
function pointsDS(pts) {
  return { data: toXY(pts), showLine: false, pointStyle: 'rect', pointRadius: 1.4, pointBackgroundColor: PTC, pointBorderWidth: 0 };
}
function smoothDatasets(curve, band) {
  return [
    { data: toXY(curve), showLine: true, borderColor: TEAL, borderWidth: 3, pointRadius: 0, cubicInterpolationMode: 'monotone', fill: false },
    { data: band.map(b => ({ x: b[0], y: b[2] })), showLine: true, borderWidth: 0, borderColor: 'rgba(0,0,0,0)', pointRadius: 0, cubicInterpolationMode: 'monotone', fill: false },
    { data: band.map(b => ({ x: b[0], y: b[1] })), showLine: true, borderWidth: 0, borderColor: 'rgba(0,0,0,0)', pointRadius: 0, cubicInterpolationMode: 'monotone', fill: '-1', backgroundColor: BANDC }
  ];
}

function makePanel(id, p) {
  const tickFont = { family: FAM, size: 10 };
  new Chart(document.getElementById(id), {
    type: 'scatter',
    data: { datasets: p.datasets },
    options: {
      responsive: false, animation: false, events: [],
      layout: { padding: { top: p.top, right: p.right, left: 0, bottom: 0 } },
      plugins: { legend: { display: false }, tooltip: { enabled: false },
        deco: { letter: p.letter, title: p.title, titleGap: p.titleGap } },
      scales: {
        x: {
          type: 'linear', min: p.xmin, max: p.xmax,
          afterBuildTicks: s => { s.ticks = p.xTicks.map(v => ({ value: v })); },
          afterFit: s => { s.height = p.xh; s.paddingLeft = 0; s.paddingRight = 0; },
          grid: { drawOnChartArea: false, drawTicks: true, tickLength: 4, color: '#222' },
          border: { display: false },
          ticks: { font: p.xFont || tickFont, color: INK, padding: p.xPad == null ? 3 : p.xPad, maxRotation: 0, autoSkip: false,
                   callback: p.xLabel || (v => String(v)) }
        },
        y: {
          type: 'linear', min: -12.9, max: 0.5,
          afterBuildTicks: s => { s.ticks = yTicks.map(v => ({ value: v })); },
          afterFit: s => { s.width = p.yw; s.paddingTop = 0; s.paddingBottom = 0; },
          grid: { drawOnChartArea: false, drawTicks: true, tickLength: 4, color: '#222' },
          border: { display: false },
          ticks: { font: tickFont, color: INK, padding: 5, autoSkip: false, callback: v => String(v) }
        }
      }
    },
    plugins: [decoPlugin]
  });
}

// build column points for (b)
const bPoints = [];
bColumnX.forEach((x, i) => bColumnY[i].forEach(y => bPoints.push([x, y])));

makePanel('pa', { letter: '(a)', title: aTitle, xmin: -1.0, xmax: 25.9, xTicks: aTicks, yw: 27, xh: 33, top: 5, right: 6, titleGap: 25,
  datasets: [...smoothDatasets(aCurve, aBand), pointsDS(aPoints)] });
makePanel('pb', { letter: '(b)', title: bTitle, xmin: 1.92, xmax: 6.54, xTicks: bTicks, yw: 27, xh: 33, top: 5, right: 8, titleGap: 25,
  datasets: [...smoothDatasets(bCurve, bBand), pointsDS(bPoints)] });
makePanel('pc', { letter: '(c)', title: cTitle, xmin: -5.69, xmax: 4.29, xTicks: cTicks, yw: 27, xh: 33, top: 5, right: 10, titleGap: 25,
  datasets: [...smoothDatasets(cCurve, cBand), pointsDS(cPoints)] });
makePanel('pd', { letter: '(d)', title: dTitle, xmin: -0.17, xmax: 4.56, xTicks: dTicks, yw: 27, xh: 33, top: 8, right: 6, titleGap: 26,
  datasets: [...smoothDatasets(dCurve, dBand), pointsDS(dPoints)] });
makePanel('pe', { letter: '(e)', title: eTitle, xmin: 1.63, xmax: 11.25, xTicks: eTicks, yw: 27, xh: 33, top: 8, right: 7, titleGap: 26,
  datasets: [...smoothDatasets(eCurve, eBand), pointsDS(ePoints)] });
makePanel('pf', { letter: '(f)', title: fTitle, xmin: 0.56, xmax: 5.54, xTicks: fTicks, yw: 27, xh: 33, top: 8, right: 10, titleGap: 27.5,
  xFont: { family: FAM, size: 10, lineHeight: 0.65 }, xPad: 2,
  xLabel: v => { const i = Math.round(v) - 1; const n = fCategories[i]; return (i % 2 === 1) ? [n] : ['', n]; },
  datasets: [
    { data: fMeans.map((m, i) => ({ x: fTicks[i], y: m })), showLine: false, pointStyle: 'line', pointRadius: 11.5, pointBorderWidth: 3, pointBorderColor: TEAL, pointBackgroundColor: TEAL },
    { type: 'bar', data: fMeans.map((m, i) => ({ x: fTicks[i], y: [fLower[i], fUpper[i]] })), backgroundColor: BANDC, borderWidth: 0, barThickness: 23 },
    pointsDS(fPoints)
  ] });
</script>
</body></html>
